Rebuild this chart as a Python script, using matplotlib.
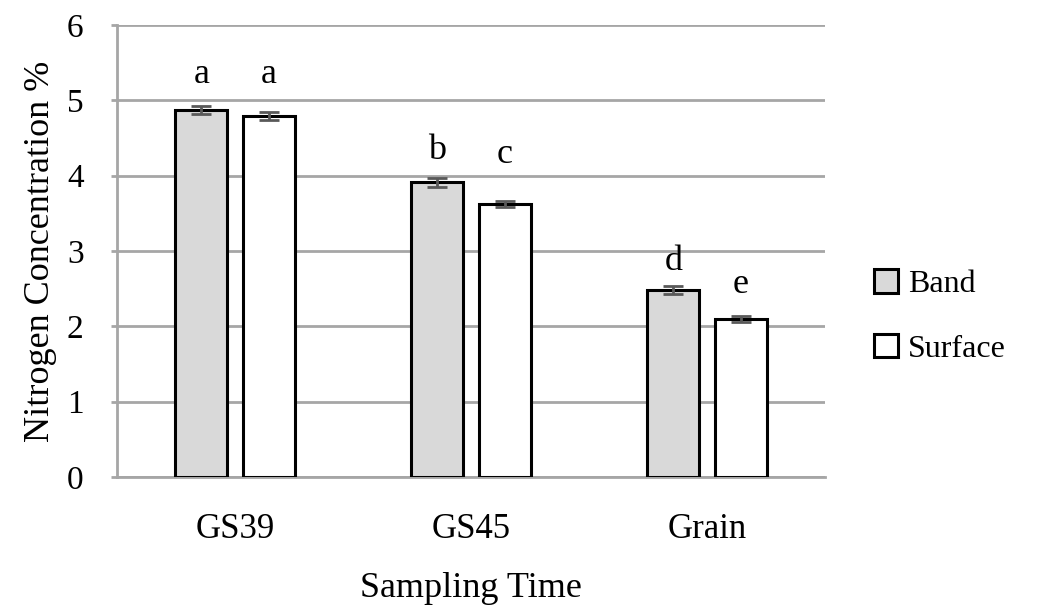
import numpy as np
import matplotlib.pyplot as plt

categories = ['GS39', 'GS45', 'Grain']
band = [4.87, 3.91, 2.48]
surface = [4.79, 3.62, 2.10]
band_err = [0.05, 0.06, 0.05]
surface_err = [0.05, 0.04, 0.04]
band_letters = ['a', 'b', 'd']
surface_letters = ['a', 'c', 'e']
band_label_y = [5.34, 4.34, 2.86]
surface_label_y = [5.34, 4.28, 2.55]

plt.rcParams['font.family'] = ['Liberation Serif', 'DejaVu Serif']

fig = plt.figure(figsize=(10.38, 6.07), dpi=100)
ax = fig.add_axes([0.1127, 0.2142, 0.6823, 0.7446])

x = np.arange(len(categories))
w = 0.22
off = 0.143
err_kw = dict(ecolor='#595959', elinewidth=2, capsize=7, capthick=2)
ax.bar(x - off, band, w, yerr=band_err, color='#d9d9d9', edgecolor='black',
       linewidth=2.2, label='Band', error_kw=err_kw, zorder=3)
ax.bar(x + off, surface, w, yerr=surface_err, color='white', edgecolor='black',
       linewidth=2.2, label='Surface', error_kw=err_kw, zorder=3)

for i in range(len(categories)):
    ax.text(x[i] - off, band_label_y[i], band_letters[i], ha='center', va='center', fontsize=26)
    ax.text(x[i] + off, surface_label_y[i], surface_letters[i], ha='center', va='center', fontsize=26)

ax.set_xlim(-0.5, 2.5)
ax.set_ylim(0, 6)
ax.set_yticks(range(7))
ax.set_xticks(x)
ax.set_xticklabels(categories)
ax.yaxis.grid(True, color='#a6a6a6', linewidth=2, zorder=0)
ax.set_axisbelow(True)
for s in ['top', 'right']:
    ax.spines[s].set_visible(False)
for s in ['left', 'bottom']:
    ax.spines[s].set_color('#a6a6a6')
    ax.spines[s].set_linewidth(2)
ax.tick_params(axis='x', length=0, pad=26, labelsize=25)
ax.tick_params(axis='y', length=4, width=2, color='#a6a6a6', pad=20, labelsize=24)

ax.set_xlabel('Sampling Time', fontsize=26)
ax.set_ylabel('Nitrogen Concentration %', fontsize=26)
ax.xaxis.set_label_coords(0.5, -0.21)
ax.yaxis.set_label_coords(-0.085, 0.5)

ax.legend(loc='center left', bbox_to_anchor=(1.069, 0.355), frameon=False, fontsize=23,
          handlelength=0.75, handleheight=0.75, handletextpad=0.3, labelspacing=1.1,
          borderpad=0, borderaxespad=0)

fig.savefig('out.png', dpi=100)
